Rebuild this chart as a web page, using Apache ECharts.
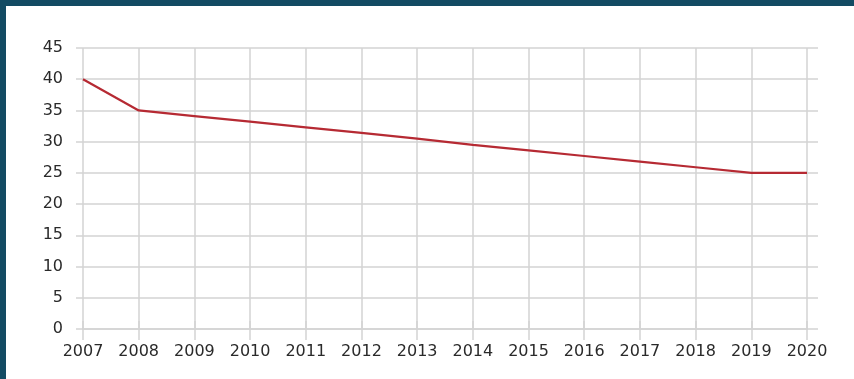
<!DOCTYPE html>
<html>
<head>
<meta charset="utf-8">
<script src="https://cdn.jsdelivr.net/npm/echarts@6/dist/echarts.min.js"></script>
<style>
html,body{margin:0;padding:0;background:#fff;}
#wrap{position:relative;width:854px;height:379px;overflow:hidden;}
#chart{position:absolute;left:0;top:0;width:854px;height:379px;}
.frame{position:absolute;background:#134b63;}
</style>
</head>
<body>
<div id="wrap">
<div id="chart"></div>
<div class="frame" style="left:0;top:0;width:854px;height:6px;"></div>
<div class="frame" style="left:0;top:0;width:6px;height:379px;"></div>
</div>
<script>
const years = ['2007','2008','2009','2010','2011','2012','2013','2014','2015','2016','2017','2018','2019','2020'];
const values = [40, 35, 34.1, 33.2, 32.3, 31.4, 30.5, 29.5, 28.6, 27.7, 26.8, 25.9, 25, 25];
const yMin = 0, yMax = 45, yStep = 5;

const gridColor = '#d3d3d3';
const textColor = '#2a2a2a';
const font = 'DejaVu Sans';

const chart = echarts.init(document.getElementById('chart'), null, {renderer: 'canvas'});
chart.setOption({
  animation: false,
  backgroundColor: '#fff',
  grid: {left: 83, right: 47, top: 48, bottom: 50, containLabel: false},
  xAxis: [{
    type: 'category', data: years, boundaryGap: false, position: 'bottom',
    axisLine: {show: true, lineStyle: {color: gridColor, width: 1.5}},
    axisTick: {show: true, length: 11, alignWithLabel: true, lineStyle: {color: gridColor, width: 1.5}},
    axisLabel: {color: textColor, fontFamily: font, fontSize: 16, margin: 15, interval: 0},
    splitLine: {show: true, lineStyle: {color: gridColor, width: 1.5}}
  }, {
    type: 'category', data: years, boundaryGap: false, position: 'top',
    axisLine: {show: false},
    axisTick: {show: true, length: 8, lineStyle: {color: gridColor, width: 1.5}},
    axisLabel: {show: false},
    splitLine: {show: false}
  }],
  yAxis: [{
    type: 'value', min: yMin, max: yMax, interval: yStep, position: 'left',
    axisLine: {show: false},
    axisTick: {show: true, length: 7, lineStyle: {color: gridColor, width: 1.5}},
    axisLabel: {color: textColor, fontFamily: font, fontSize: 16, margin: 20},
    splitLine: {show: true, lineStyle: {color: gridColor, width: 1.5}}
  }, {
    type: 'value', min: yMin, max: yMax, interval: yStep, position: 'right',
    axisLine: {show: false},
    axisTick: {show: true, length: 11, lineStyle: {color: gridColor, width: 1.5}},
    axisLabel: {show: false},
    splitLine: {show: false}
  }],
  series: [{
    type: 'line', data: values, xAxisIndex: 0, yAxisIndex: 0,
    symbol: 'none', smooth: false,
    lineStyle: {color: '#b62a33', width: 2.2}
  }]
});
</script>
</body>
</html>
